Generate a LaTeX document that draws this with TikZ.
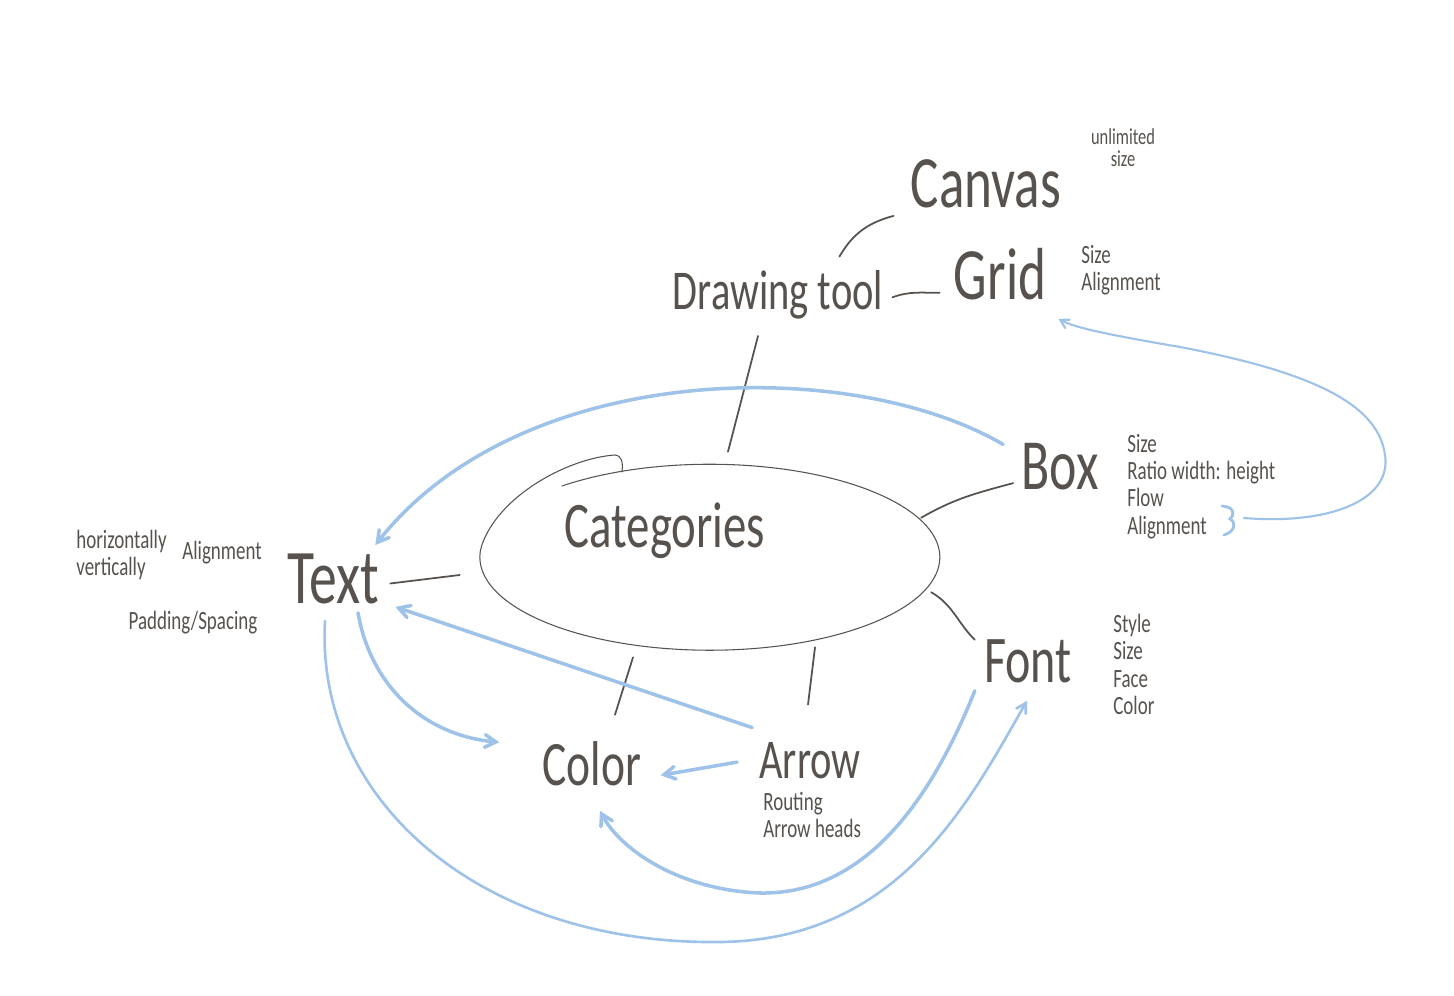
\documentclass[tikz,border=0pt]{standalone}
\usepackage{fontspec}
\usepackage{tikz}
\usetikzlibrary{arrows,calc,shapes.geometric}
\newfontfamily\handfont[FakeStretch=0.72]{Carlito}
\definecolor{ink}{RGB}{87,82,77}
\definecolor{sky}{RGB}{158,194,232}

\begin{document}
\begin{tikzpicture}[x=0.02cm,y=-0.02cm,>=angle 60,
  word/.style={text=ink,inner sep=0pt,anchor=base,font=\handfont\fontsize{#1}{#1}\selectfont},
  note/.style={text=ink,inner sep=0pt,align=left,font=\handfont\fontsize{15}{15.5}\selectfont},
  cat shape/.style={ellipse,minimum width=9.2cm,minimum height=3.72cm,inner sep=0pt},
  pen/.style={draw=ink,line width=1pt,line cap=round},
  flow/.style={draw=sky,line width=2pt,line cap=round,->}]
  \fill[white] (0,0) rectangle (1454,996);
  \useasboundingbox (0,0) rectangle (1454,996);

  \node[word=42] (canvas) at (986,208) {Canvas};
  \node[note,anchor=north,align=center,font=\handfont\fontsize{13}{12.5}\selectfont] (unlimited) at (1123,128) {unlimited\\size};
  \node[word=32] (drawing) at (778,310) {Drawing tool};
  \node[word=42] (grid) at (1000,300) {Grid};
  \node[note,anchor=north west] (gridnotes) at (1081,245) {Size\\Alignment};
  \node[cat shape] (cat) at (710,555) {};
  \node[word=37] (catname) at (665,548) {Categories};
  \node[word=41] (box) at (1060,490) {Box};
  \node[note,anchor=north west] (boxnotes) at (1127,434) {Size\\Ratio width: height\\Flow\\Alignment};
  \node[word=44] (text) at (333,603) {Text};
  \node[note,anchor=north west] (textnotes) at (76,530) {horizontally\\vertically};
  \node[note] (alignment) at (222,553) {Alignment};
  \node[note] (padding) at (193,623) {Padding/Spacing};
  \node[word=38] (font) at (1028,683) {Font};
  \node[note,anchor=north west] (fontnotes) at (1113,614) {Style\\Size\\Face\\Color};
  \node[word=36] (color) at (592,785) {Color};
  \node[word=32] (arrow) at (810,778) {Arrow};
  \node[note,anchor=north west] (arrownotes) at (763,792) {Routing\\Arrow heads};
  \coordinate (brace) at (1244,518);

  \draw[ink,line width=0.6pt,line cap=round] (562,486) arc[start angle=-130,end angle=190,x radius=230,y radius=93]
    .. controls (503,493) and (570,458) .. (615,455) .. controls (622,456) and (623,462) .. (622,472);

  \draw[pen] ($(drawing.north east)+(-44,-14)$) to[out=60,in=195] ($(canvas.south west)+(-17,7)$);
  \draw[pen] ($(drawing.east)+(9,2)$) to[out=20,in=180] ($(grid.south west)+(-14,-8)$);
  \draw[pen] ($(drawing.south)+(-20,16)$) -- ($(cat.north)+(18,-10)$);
  \draw[pen] ($(box.west)+(-8,16)$) to[out=195,in=30] (cat.10);
  \draw[pen] ($(text.east)+(11,5)$) -- ($(cat.west)+(-20,20)$);
  \draw[pen] ($(font.north west)+(-9,0)$) to[out=135,in=-30] ($(cat.-10)+(10,0)$);
  \draw[pen] ($(color.north)+(23,-26)$) -- ($(cat.south)+(-77,9)$);
  \draw[pen] ($(arrow.north)+(-2,-37)$) -- ($(cat.south)+(105,-1)$);

  \draw[flow] ($(box.north west)+(-18,1)$) .. controls (850,355) and (520,360) .. ($(text.north east)+(-4,-8)$);
  \draw[sky,line width=1.6pt,line cap=round] (1222,506) .. controls (1236,507) and (1234,516) .. (1230,519)
    .. controls (1236,522) and (1236,531) .. (1224,535);
  \draw[flow,line width=1.2pt] (brace) .. controls (1330,525) and (1392,500) .. (1385,455)
    .. controls (1378,400) and (1300,370) .. (1180,347) .. controls (1110,335) and (1075,328) .. ($(grid.south east)+(12,18)$);
  \draw[flow] ($(arrow.north west)+(-7,-14)$) -- ($(text.south east)+(16,3)$);
  \draw[flow] ($(arrow.west)+(-22,2)$) -- ($(color.east)+(19,12)$);
  \draw[flow] ($(text.south)+(25,9)$) to[out=-80,in=175] ($(color.west)+(-43,-21)$);
  \draw[flow,line width=1.5pt] ($(text.south)+(-8,17)$) .. controls (315,800) and (480,945) .. (720,942)
    .. controls (900,940) and (970,800) .. ($(font.south)+(-1,17)$);
  \draw[flow] ($(font.south west)+(-9,7)$) .. controls (935,790) and (870,895) .. (760,893)
    .. controls (680,890) and (620,850) .. ($(color.south)+(8,25)$);
\end{tikzpicture}
\end{document}
